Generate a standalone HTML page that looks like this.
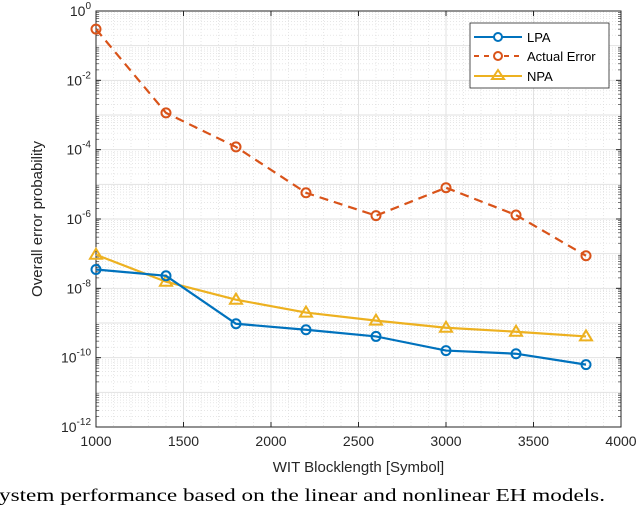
<!DOCTYPE html>
<html><head><meta charset="utf-8"><style>
html,body{margin:0;padding:0;background:#fff;width:640px;height:507px;overflow:hidden}
svg text{font-family:"Liberation Sans",sans-serif}
</style></head><body>
<svg id="chart" width="640" height="507" xmlns="http://www.w3.org/2000/svg"></svg>
<script>
const categories=[1000,1400,1800,2200,2600,3000,3400,3800];
const lpaValues=[3.5e-8,2.3e-8,9.5e-10,6.4e-10,4.1e-10,1.6e-10,1.3e-10,6.3e-11];
const actualValues=[3e-1,1.15e-3,1.2e-4,5.7e-6,1.25e-6,8e-6,1.3e-6,8.7e-8];
const npaValues=[9.3e-8,1.55e-8,4.7e-9,2e-9,1.17e-9,7.3e-10,5.6e-10,4.1e-10];
const xTicks=[1000,1500,2000,2500,3000,3500,4000];
const yTickExps=[0,-2,-4,-6,-8,-10,-12];

const NS='http://www.w3.org/2000/svg';
const svg=document.getElementById('chart');
const L=96,R=621,T=11,B=427;
const xs=v=>L+(v-1000)/3000*(R-L);
const ys=v=>T+(-Math.log10(v))/12*(B-T);
function el(tag,attrs,parent){const e=document.createElementNS(NS,tag);for(const k in attrs)e.setAttribute(k,attrs[k]);(parent||svg).appendChild(e);return e;}

const grid=el('g',{});


for(let d=0;d<12;d++){for(let m=2;m<=9;m++){const y=ys(Math.pow(10,-d-1)*m);el('line',{x1:L,x2:R,y1:y,y2:y,stroke:'#d8d8d8','stroke-width':0.6,'stroke-dasharray':'1,2'},grid);}}
for(let x=1100;x<4000;x+=100){if(x%500){const px=xs(x);el('line',{x1:px,x2:px,y1:T,y2:B,stroke:'#d8d8d8','stroke-width':0.6,'stroke-dasharray':'1,2'},grid);}}
for(let e=0;e>=-12;e--){const y=ys(Math.pow(10,e));el('line',{x1:L,x2:R,y1:y,y2:y,stroke:'#e2e2e2','stroke-width':1},grid);}
xTicks.forEach(t=>{const px=xs(t);el('line',{x1:px,x2:px,y1:T,y2:B,stroke:'#e2e2e2','stroke-width':1},grid);});

const box=el('rect',{x:L,y:T,width:R-L,height:B-T,fill:'none',stroke:'#262626','stroke-width':1});



xTicks.forEach(t=>{const px=xs(t);
el('line',{x1:px,x2:px,y1:B,y2:B-5,stroke:'#262626'});el('line',{x1:px,x2:px,y1:T,y2:T+5,stroke:'#262626'});
const tx=el('text',{x:px,y:446,'font-size':14,'text-anchor':'middle',fill:'#262626'});tx.textContent=t;

});
yTickExps.forEach(e=>{const y=ys(Math.pow(10,e));
el('line',{x1:L,x2:L+5,y1:y,y2:y,stroke:'#262626'});el('line',{x1:R,x2:R-5,y1:y,y2:y,stroke:'#262626'});
const tx=el('text',{x:L-5,y:y+5,'font-size':14,'text-anchor':'end',fill:'#262626'});


tx.innerHTML='10<tspan dy="-7" font-size="10">'+e+'</tspan>';});
for(let d=0;d<12;d++){for(let m=2;m<=9;m++){const y=ys(Math.pow(10,-d-1)*m);el('line',{x1:L,x2:L+3,y1:y,y2:y,stroke:'#262626','stroke-width':0.6});el('line',{x1:R,x2:R-3,y1:y,y2:y,stroke:'#262626','stroke-width':0.6});}}

const xt=el('text',{x:(L+R)/2,y:472,'font-size':15,'text-anchor':'middle',fill:'#262626'});xt.textContent='WIT Blocklength [Symbol]';


const yt=el('text',{x:0,y:0,'font-size':15,'text-anchor':'middle',fill:'#262626',transform:'translate(42,'+(T+B)/2+') rotate(-90)'});yt.textContent='Overall error probability';



function series(vals,color,dash,marker,name){
const g=el('g',{});


const pts=vals.map((v,i)=>xs(categories[i])+','+ys(v)).join(' ');
el('polyline',{points:pts,fill:'none',stroke:color,'stroke-width':2.2,'stroke-dasharray':dash||''},g);
vals.forEach((v,i)=>{const x=xs(categories[i]),y=ys(v);
if(marker==='o')el('circle',{cx:x,cy:y,r:4.5,fill:'none',stroke:color,'stroke-width':2},g);
else el('polygon',{points:`${x},${y-6} ${x-6},${y+4} ${x+6},${y+4}`,fill:'none',stroke:color,'stroke-width':2},g);});
}
series(actualValues,'#d95319','9,6','o','series-actual-error');
series(npaValues,'#edb120','','t','series-npa');
series(lpaValues,'#0072bd','','o','series-lpa');

const lg=el('g',{});


el('rect',{x:470,y:23,width:139,height:65,fill:'#fff',stroke:'#262626','stroke-width':0.8},lg);
[['LPA','#0072bd','','o',37],['Actual Error','#d95319','5,5','o',56],['NPA','#edb120','','t',76]].forEach(([n,c,d,m,y])=>{
const e=el('g',{},lg);


el('line',{x1:474,x2:522,y1:y,y2:y,stroke:c,'stroke-width':2,'stroke-dasharray':d},e);
if(m==='o')el('circle',{cx:498,cy:y,r:4,fill:'#fff',stroke:c,'stroke-width':2},e);
else el('polygon',{points:`498,${y-6} 492,${y+3} 504,${y+3}`,fill:'none',stroke:c,'stroke-width':2},e);
const t=el('text',{x:527,y:y+5,'font-size':13,fill:'#000'},e);t.textContent=n;});

const cap=el('text',{x:-1,y:501,'font-size':18,fill:'#000',textLength:606,lengthAdjust:'spacingAndGlyphs',style:'font-family:"Liberation Serif",serif'});
cap.textContent='ystem performance based on the linear and nonlinear EH models.';


</script>
</body></html>
